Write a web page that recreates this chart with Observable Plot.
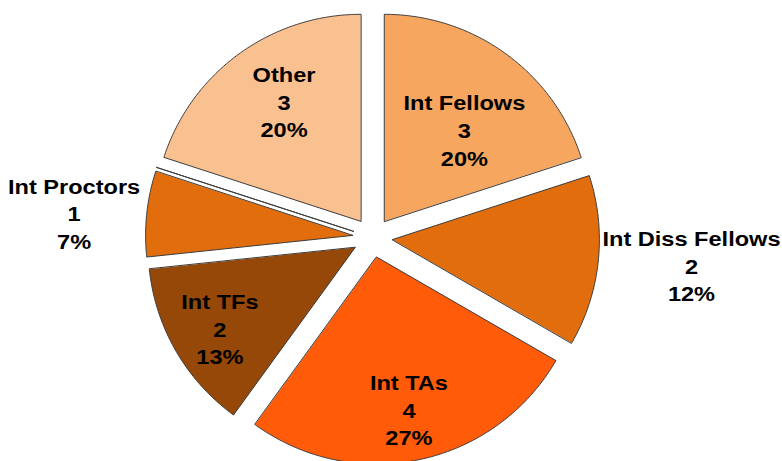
<!DOCTYPE html>
<html><head><meta charset="utf-8">
<script src="https://cdn.jsdelivr.net/npm/d3@7"></script>
<script src="https://cdn.jsdelivr.net/npm/@observablehq/plot@0.6"></script>
<style>body{margin:0;background:#fff}</style>
</head><body><div id="chart"></div>
<script>
// Data
const categories = ["Int Fellows", "Int Diss Fellows", "Int TAs", "Int TFs", "Int Proctors", "", "Other"];
const counts = [3, 2, 4, 2, 1, 0, 3];
const percentLabels = ["20%", "12%", "27%", "13%", "7%", "", "20%"];
const colors = ["#F7A660", "#E26D0D", "#FF5B08", "#964808", "#E26D0D", "#FFFFFF", "#F9C18F"];
// label placement relative to slice apex: distance (fraction of radius), angle shift (deg)
const labelRadius = [0.59, 1.45, 0.75, 0.76, 1.35, 0, 0.69];
const labelAngleShift = [5, -1.2, 0, -0.7, -1.3, 0, 3.5];

// Layout
const W = 782, H = 461, CX = 372, CY = 237, R = 207, EXPLODE = 20, TEXT_STRETCH = 1.15;
const ex = EXPLODE / R;
const total = d3.sum(counts);
const rad = d => d * Math.PI / 180;

let start = 0;
const slices = categories.map((name, i) => {
  const a0 = start, a1 = start + counts[i] / total * 360;
  start = a1;
  const mid = (a0 + a1) / 2;
  const ox = ex * Math.sin(rad(mid)), oy = ex * Math.cos(rad(mid));
  const pts = [{x: ox, y: oy}];
  const n = Math.max(1, Math.ceil((a1 - a0) / 0.5));
  for (let k = 0; k <= n; k++) {
    const a = a0 + (a1 - a0) * k / n;
    pts.push({x: ox + Math.sin(rad(a)), y: oy + Math.cos(rad(a))});
  }
  const lr = labelRadius[i], la = mid + labelAngleShift[i];
  return {
    name, color: colors[i], pts,
    label: {x: ox + lr * Math.sin(rad(la)), y: oy + lr * Math.cos(rad(la)),
            text: `${name}\n${counts[i]}\n${percentLabels[i]}`},
    show: counts[i] > 0
  };
});

const plot = Plot.plot({
  width: W, height: H, margin: 0,
  x: {domain: [-CX / R, (W - CX) / R], axis: null},
  y: {domain: [-(H - CY) / R, CY / R], axis: null},
  style: {fontFamily: "'Liberation Sans', Arial, sans-serif", background: "#fff"},
  marks: [
    ...slices.map(s => Plot.line(s.pts, {x: "x", y: "y", curve: "linear-closed",
      fill: s.color, stroke: "#3c3c3c", strokeWidth: 1})),
    Plot.text(slices.filter(s => s.show).map(s => s.label), {
      x: "x", y: "y", text: "text", fontSize: 20.5, fontWeight: "bold",
      fill: "#000", lineHeight: 1.35, lineAnchor: "middle", textAnchor: "middle"
    })
  ]
});
// widen the label glyphs like the reference's stretched text
plot.querySelectorAll("text").forEach(t => {
  const tr = t.getAttribute("transform");
  if (tr) t.setAttribute("transform", tr + ` scale(${TEXT_STRETCH},1)`);
  else {
    const x = +t.getAttribute("x") || 0, y = +t.getAttribute("y") || 0;
    t.setAttribute("transform", `translate(${x},${y}) scale(${TEXT_STRETCH},1)`);
    t.setAttribute("x", 0); t.setAttribute("y", 0);
  }
});
document.getElementById("chart").append(plot);
</script>
</body></html>
